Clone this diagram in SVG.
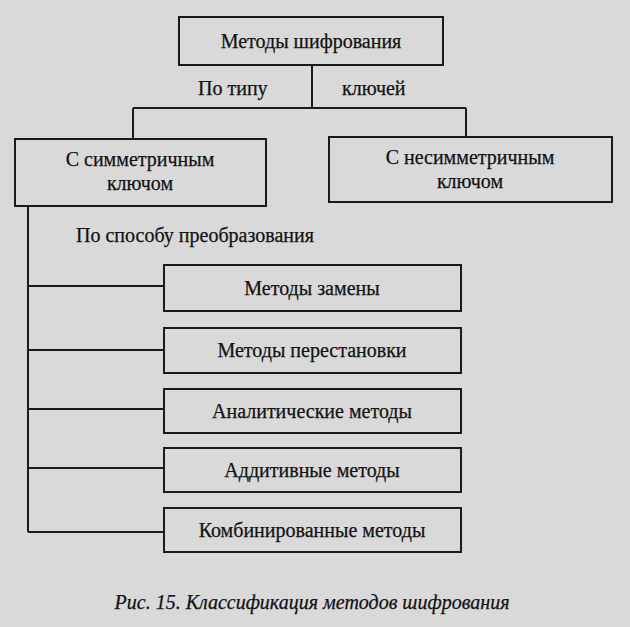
<svg xmlns="http://www.w3.org/2000/svg" width="630" height="627" viewBox="0 0 630 627">
<style>
.bg{fill:#d9d9d9}
.box{fill:none;stroke:#1a1a1a;stroke-width:2}
.ln{fill:none;stroke:#1a1a1a;stroke-width:2}
.t{font-family:'Liberation Serif','DejaVu Serif',serif;font-size:20px;fill:#121212;stroke:#121212;stroke-width:0.25}
.c{text-anchor:middle}
.cap{font-style:italic;font-size:20px}
</style>
<rect class="bg" x="0" y="0" width="630" height="627"/>
<g id="connectors">
<path class="ln" d="M312,65 V108 M133,108 H466 M133,108 V139 M466,108 V137"/>
<path class="ln" d="M28,206 V532 M28,286 H164 M28,350 H164 M28,409 H164 M28,468 H164 M28,532 H164"/>
</g>
<g id="edge-labels" class="t">
<text x="198" y="95">По типу</text>
<text x="342" y="95">ключей</text>
<text x="76" y="242">По способу преобразования</text>
</g>
<g id="node-root" class="t c">
<rect class="box" x="179" y="17" width="264" height="48"/>
<text x="311" y="48">Методы шифрования</text>
</g>
<g id="node-sym" class="t c">
<rect class="box" x="15" y="139" width="251" height="67"/>
<text x="140" y="166">С симметричным</text>
<text x="140" y="190">ключом</text>
</g>
<g id="node-asym" class="t c">
<rect class="box" x="329" y="137" width="283" height="65"/>
<text x="470" y="164">С несимметричным</text>
<text x="470" y="188">ключом</text>
</g>
<g id="node-subst" class="t c">
<rect class="box" x="164" y="265" width="297" height="46"/>
<text x="312" y="295">Методы замены</text>
</g>
<g id="node-perm" class="t c">
<rect class="box" x="164" y="328" width="297" height="45"/>
<text x="312" y="357">Методы перестановки</text>
</g>
<g id="node-analytic" class="t c">
<rect class="box" x="164" y="389" width="297" height="44"/>
<text x="312" y="418">Аналитические методы</text>
</g>
<g id="node-additive" class="t c">
<rect class="box" x="164" y="448" width="297" height="44"/>
<text x="312" y="477">Аддитивные методы</text>
</g>
<g id="node-combined" class="t c">
<rect class="box" x="164" y="508" width="297" height="44"/>
<text x="312" y="537">Комбинированные методы</text>
</g>
<g id="caption" class="t c cap">
<text x="312" y="609">Рис. 15. Классификация методов шифрования</text>
</g>
</svg>
